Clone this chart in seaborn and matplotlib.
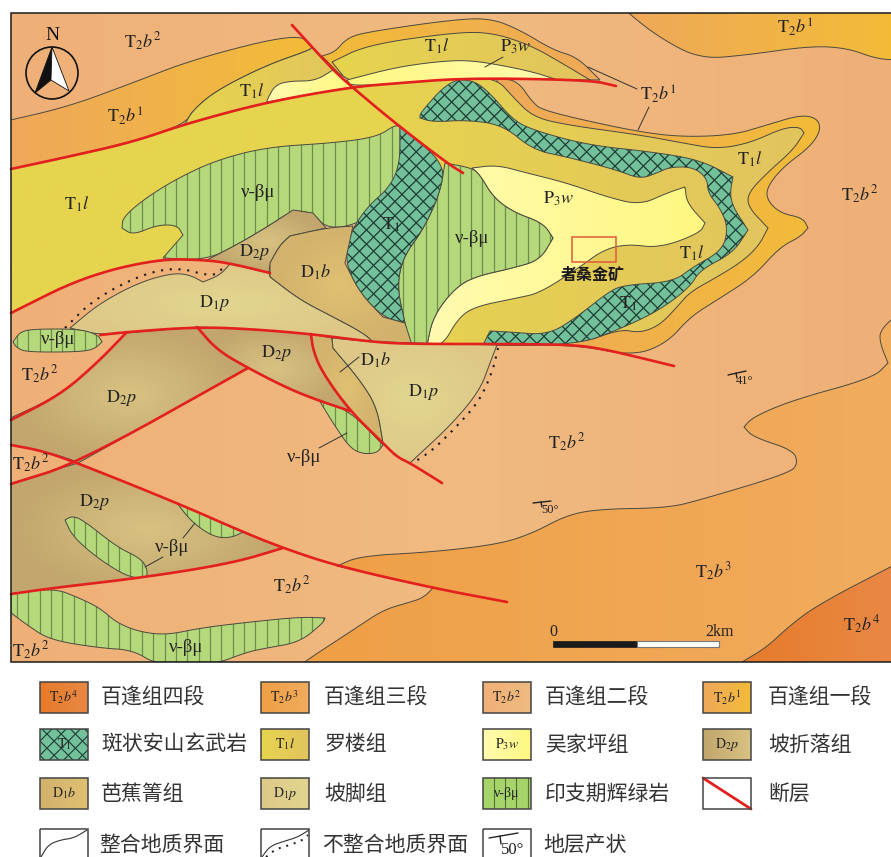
import numpy as np
import pandas as pd
import matplotlib

matplotlib.use("Agg")

import matplotlib.pyplot as plt
import seaborn as sns
from matplotlib.collections import LineCollection
from matplotlib.colors import LinearSegmentedColormap
from matplotlib.patches import Circle, Polygon, Rectangle

# outlines of the map units (pixel positions)
T2B3 = [(500, 544), (533, 533), (567, 515), (600, 509), (667, 508), (700, 500), (790, 473), (798, 463), (793, 450),
        (753, 437), (744, 427), (753, 417), (793, 400), (873, 378), (888, 363), (880, 343), (880, 330), (900, 312),
        (900, 670), (295, 670), (304, 662), (353, 630), (383, 610), (407, 603), (423, 598), (433, 588), (337, 566),
        (360, 556), (433, 552)]
T2B4 = [(730, 670), (742, 662), (767, 647), (787, 628), (817, 605), (900, 562), (900, 670)]
T2B1_NE = [(622, 5), (628, 13), (660, 38), (700, 59), (747, 55), (810, 46), (847, 48), (877, 59), (900, 60), (900, 5)]
T2B1_NW = [(2, 122), (67, 107), (127, 85), (197, 58), (298, 33), (312, 47), (310, 50), (267, 65), (217, 90), (193, 110),
           (185, 124), (133, 142), (2, 171)]
T1L_NW = [(185, 124), (193, 110), (217, 90), (267, 65), (310, 50), (312, 47), (333, 70), (352, 87), (267, 102)]
P3W_NW = [(267, 100), (275, 85), (290, 81), (315, 81), (333, 70), (352, 87), (267, 102)]
T2B1_N = [(322, 56), (335, 52), (347, 38), (367, 32), (450, 20), (490, 18), (520, 30), (553, 50), (577, 57), (600, 80),
          (467, 78), (352, 87)]
T1L_N = [(332, 62), (367, 45), (450, 33), (490, 32), (530, 45), (560, 62), (590, 80), (467, 78), (352, 87)]
P3W_N = [(347, 80), (393, 68), (433, 62), (467, 60), (500, 65), (533, 72), (555, 79), (467, 78), (352, 87)]
T1L_W = [(2, 171), (133, 142), (185, 124), (267, 102), (352, 87), (395, 123), (400, 200), (163, 258), (157, 259),
         (83, 277), (2, 317)]
T2B1_E = [(497, 79), (517, 80), (533, 103), (543, 110), (583, 120), (640, 132), (683, 137), (733, 135), (767, 125),
          (800, 115), (817, 118), (821, 130), (810, 147), (783, 167), (767, 187), (767, 200), (780, 213), (803, 218),
          (808, 228), (800, 237), (780, 247), (753, 277), (717, 300), (690, 317), (667, 343), (633, 356), (577, 345),
          (500, 345)]
T1L_E = [(352, 87), (400, 83), (467, 78), (497, 79), (513, 97), (533, 117), (567, 125), (640, 135), (683, 143),
         (717, 149), (750, 143), (783, 128), (800, 127), (804, 133), (793, 150), (767, 173), (748, 193), (748, 207),
         (768, 228), (758, 247), (740, 263), (717, 277), (690, 292), (677, 307), (660, 325), (640, 333), (620, 329),
         (577, 345), (420, 345), (447, 163), (395, 123)]
T1_E = [(420, 113), (450, 80), (473, 80), (490, 93), (513, 120), (533, 130), (587, 145), (653, 152), (700, 160),
        (733, 177), (730, 193), (733, 207), (748, 230), (733, 253), (700, 270), (690, 287), (660, 310), (620, 329),
        (577, 345), (483, 345), (490, 331), (510, 332), (548, 335), (577, 317), (607, 293), (623, 285), (673, 282),
        (693, 267), (723, 250), (728, 227), (720, 208), (708, 193), (707, 178), (693, 167), (670, 167), (657, 173),
        (640, 179), (617, 170), (567, 157), (533, 150), (503, 125), (467, 120), (433, 122), (420, 118)]
P3W_E = [(472, 168), (497, 165), (527, 173), (567, 183), (607, 197), (640, 205), (667, 193), (685, 187), (687, 203),
         (705, 223), (700, 233), (660, 248), (627, 244), (603, 250), (580, 267), (540, 293), (517, 298), (473, 307),
         (457, 320), (443, 345), (427, 345), (433, 317), (453, 290), (473, 277), (513, 268), (540, 260), (553, 238),
         (543, 223), (513, 212), (493, 197), (480, 175)]
GREEN_C = [(445, 163), (472, 168), (480, 175), (493, 197), (513, 212), (543, 223), (553, 238), (540, 260), (513, 268),
           (473, 277), (453, 290), (433, 317), (427, 345), (410, 345), (405, 323), (397, 287), (403, 257), (423, 230),
           (440, 193)]
GREEN_NW = [(395, 125), (377, 137), (333, 143), (267, 147), (217, 160), (180, 177), (147, 197), (123, 217), (122, 228),
            (133, 235), (157, 225), (177, 225), (183, 235), (163, 258), (207, 260), (240, 243), (267, 227), (293, 210),
            (313, 213), (326, 228), (353, 226), (400, 200), (400, 127)]
T1_C = [(400, 127), (445, 163), (440, 193), (423, 230), (403, 257), (397, 287), (405, 323), (383, 317), (360, 293),
        (345, 263), (350, 233), (367, 207), (390, 187), (400, 163)]
D2P_U = [(207, 260), (240, 243), (267, 227), (293, 210), (313, 213), (326, 228), (290, 236), (280, 245), (270, 263),
         (269, 273), (233, 264)]
D1B_U = [(326, 228), (353, 226), (345, 263), (360, 293), (383, 317), (405, 323), (412, 345), (373, 342), (363, 333),
         (333, 317), (300, 300), (270, 277), (270, 263), (280, 245), (290, 236)]
D1P_U = [(70, 328), (100, 303), (140, 282), (173, 273), (190, 275), (203, 282), (220, 275), (230, 264), (269, 273),
         (270, 277), (300, 300), (333, 317), (363, 333), (373, 342), (310, 334), (250, 329), (197, 327), (127, 332),
         (100, 335)]
GREEN_LENS = [(13, 342), (20, 332), (33, 329), (80, 329), (98, 335), (102, 342), (93, 350), (73, 352), (27, 352),
              (17, 348)]
D2P_M = [(126, 333), (197, 327), (217, 350), (248, 368), (78, 463), (73, 460), (43, 451), (2, 443), (2, 422), (60, 395),
         (97, 363)]
D2P_E = [(197, 327), (250, 329), (311, 334), (313, 350), (322, 372), (350, 411), (317, 400), (287, 388), (248, 368),
         (217, 350)]
D1B_S = [(311, 334), (332, 338), (333, 348), (360, 380), (377, 407), (383, 443), (350, 411), (322, 372), (313, 350)]
D1P_E = [(332, 338), (373, 342), (497, 345), (490, 363), (480, 390), (453, 423), (410, 463), (397, 457), (383, 443),
         (377, 407), (360, 380), (333, 348)]
GREEN_F = [(319, 400), (350, 411), (383, 445), (377, 453), (363, 454), (350, 448), (333, 423)]
D2P_L = [(2, 486), (78, 463), (177, 503), (243, 532), (283, 548), (233, 563), (147, 577), (53, 588), (2, 595)]
GREEN_L1 = [(65, 520), (72, 516), (83, 520), (117, 547), (140, 558), (147, 568), (147, 577), (130, 578), (100, 560),
            (73, 537)]
GREEN_L2 = [(177, 503), (243, 532), (233, 537), (220, 538), (207, 533), (190, 520)]
GREEN_S = [(2, 595), (53, 588), (77, 597), (100, 608), (117, 623), (140, 632), (167, 635), (200, 628), (250, 622),
           (300, 617), (325, 618), (323, 623), (300, 642), (267, 648), (247, 652), (213, 665), (157, 665), (133, 650),
           (100, 648), (50, 640), (27, 625), (2, 606)]

FAULT_N = [(11, 169), (67, 157), (133, 142), (185, 124), (267, 102), (352, 87), (400, 83), (467, 78), (590, 80), (616, 86)]
FAULT_NW = [(292, 25), (333, 70), (352, 87), (395, 123), (447, 163), (463, 173)]
FAULT_MID_N = [(11, 313), (83, 277), (157, 259), (207, 260), (233, 264), (270, 273)]
FAULT_MAIN = [(100, 335), (127, 332), (197, 327), (250, 329), (311, 334), (373, 342), (410, 344), (520, 344), (577, 345),
              (607, 350), (633, 356), (674, 366)]
FAULT_A = [(11, 420), (60, 395), (97, 363), (126, 333)]
FAULT_B = [(197, 327), (217, 350), (248, 368), (287, 388), (317, 400), (350, 411)]
FAULT_C = [(311, 334), (313, 350), (322, 372), (350, 411), (383, 443), (397, 457), (410, 463), (442, 483)]
FAULT_D = [(11, 484), (78, 463), (248, 368)]
FAULT_E = [(11, 445), (43, 451), (80, 464), (177, 503), (243, 532), (283, 548), (337, 566), (433, 588), (507, 602)]
FAULT_F = [(11, 594), (53, 588), (147, 577), (233, 563), (283, 548)]
FAULTS = [FAULT_N, FAULT_NW, FAULT_MID_N, FAULT_MAIN, FAULT_A, FAULT_B, FAULT_C, FAULT_D, FAULT_E, FAULT_F]

DOTS_W = [(65, 328), (93, 300), (140, 275), (177, 267), (213, 277), (223, 268)]
DOTS_E = [(498, 348), (493, 370), (480, 400), (460, 423), (433, 450), (413, 463)]

LEADERS = [[(588, 67), (637, 89)], [(649, 107), (638, 130)], [(485, 67), (503, 57)], [(340, 372), (359, 357)],
           [(319, 448), (347, 433)], [(183, 538), (195, 523)], [(163, 557), (145, 567)]]

MAP_LABELS = [
    (r"$\mathrm{T}_{2}b^{2}$", 143, 42), (r"$\mathrm{T}_{2}b^{1}$", 125, 116), (r"$\mathrm{T}_{1}l$", 252, 91),
    (r"$\mathrm{T}_{1}l$", 437, 46), (r"$\mathrm{P}_{3}w$", 516, 47), (r"$\mathrm{T}_{2}b^{1}$", 658, 94),
    (r"$\mathrm{T}_{2}b^{1}$", 795, 27), (r"$\mathrm{T}_{1}l$", 77, 204), (r"$\mathrm{T}_{1}l$", 750, 159),
    (r"$\mathrm{T}_{2}b^{2}$", 860, 195), (r"$\mathrm{P}_{3}w$", 559, 199), (r"$\mathrm{T}_{1}l$", 692, 253),
    (r"$\mathrm{T}_{1}$", 391, 225), (r"$\mathrm{T}_{1}$", 628, 304), (r"$\mathrm{D}_{2}p$", 254, 252),
    (r"$\mathrm{D}_{1}b$", 315, 272), (r"$\mathrm{D}_{1}p$", 214, 303), (r"$\mathrm{D}_{2}p$", 276, 353),
    (r"$\mathrm{D}_{2}p$", 121, 398), (r"$\mathrm{D}_{1}b$", 375, 360), (r"$\mathrm{D}_{1}p$", 423, 392),
    (r"$\mathrm{T}_{2}b^{2}$", 40, 375), (r"$\mathrm{T}_{2}b^{2}$", 31, 464), (r"$\mathrm{T}_{2}b^{2}$", 567, 443),
    (r"$\mathrm{D}_{2}p$", 94, 502), (r"$\mathrm{T}_{2}b^{2}$", 292, 586), (r"$\mathrm{T}_{2}b^{3}$", 713, 572),
    (r"$\mathrm{T}_{2}b^{4}$", 862, 625), (r"$\mathrm{T}_{2}b^{2}$", 31, 651),
]
GREEN_LABELS = [(258, 192), (472, 238), (58, 340), (304, 457), (172, 548), (186, 647)]

LEGEND_NAMES = ["百逢组四段", "百逢组三段", "百逢组二段", "百逢组一段",
                "斑状安山玄武岩", "罗楼组", "吴家坪组", "坡折落组",
                "芭蕉箐组", "坡脚组", "印支期辉绿岩", "断层",
                "整合地质界面", "不整合地质界面", "地层产状"]
LEGEND_CODES = [r"$\mathrm{T}_{2}b^{4}$", r"$\mathrm{T}_{2}b^{3}$", r"$\mathrm{T}_{2}b^{2}$", r"$\mathrm{T}_{2}b^{1}$",
                r"$\mathrm{T}_{1}$", r"$\mathrm{T}_{1}l$", r"$\mathrm{P}_{3}w$", r"$\mathrm{D}_{2}p$",
                r"$\mathrm{D}_{1}b$", r"$\mathrm{D}_{1}p$", "ν-βμ"]

C_T2B2 = ("#EFB077", "#F0BA80")
C_T2B3 = ("#EF9F45", "#F1AC5E")
C_T2B4 = ("#E67A28", "#E98845")
C_T2B1 = ("#EFA85A", "#F2BC38")
C_T1L = ("#E6D44E", "#E2C45E")
C_P3W = ("#FFFBB0", "#FFF780")
C_D2P = ("#C2A66D", "#D8C282")
C_D1B = ("#D2B26C", "#E0C072")
C_D1P = ("#DEC888", "#E2D690")
GREEN = "#B5D97A"
TEAL = "#72C19B"
RED = "#E3201E"
LINE = "#4A4A40"
INK = "#222222"

FRAME = (11, 13, 892, 662)


def smooth(pts, closed=True, iters=3, corner=62):
    # corner cutting, vertices with a hard turn stay sharp
    pts = np.asarray(pts, dtype=float)
    keep = []
    n = len(pts)
    for i in range(n):
        if not closed and (i == 0 or i == n - 1):
            keep.append(pts[i])
            continue
        a = pts[i] - pts[i - 1]
        b = pts[(i + 1) % n] - pts[i]
        ang = np.degrees(np.arccos(np.clip(a @ b / (np.linalg.norm(a) * np.linalg.norm(b)), -1, 1)))
        keep.append(pts[i])
        if ang > corner:
            keep.append(pts[i])
    pts = np.array(keep)
    for _ in range(iters):
        nxt = np.roll(pts, -1, axis=0)
        q = 0.75 * pts + 0.25 * nxt
        r = 0.25 * pts + 0.75 * nxt
        out = np.empty((2 * len(pts), 2))
        out[0::2] = q
        out[1::2] = r
        if not closed:
            out = np.vstack([pts[0], out[:-2], pts[-1]])
        pts = out
    return pts


def gradient(ax, outline, colors, radial=False, box=FRAME, corner=62):
    xy = smooth(outline, corner=corner)
    x0, x1 = max(xy[:, 0].min(), box[0]), min(xy[:, 0].max(), box[2])
    y0, y1 = max(xy[:, 1].min(), box[1]), min(xy[:, 1].max(), box[3])
    cmap = LinearSegmentedColormap.from_list("unit", colors)
    if radial:
        gx, gy = np.meshgrid(np.linspace(-1, 1, 80), np.linspace(-1, 1, 80))
        img = 1 - np.clip(np.hypot(gx, gy), 0, 1)
    else:
        img = np.linspace(0, 1, 200).reshape(1, -1)
    im = ax.imshow(img, cmap=cmap, extent=(x0, x1, y1, y0), aspect="auto", vmin=0, vmax=1, zorder=2)
    im.set_clip_path(Polygon(xy, transform=ax.transData))
    return xy


def outline_only(ax, xy):
    patch = Polygon(xy, closed=True, fill=False, edgecolor=LINE, linewidth=0.7, zorder=2)
    ax.add_patch(patch)
    patch.set_clip_path(frame_clip)


def unit(ax, outline, colors, radial=False, corner=62):
    xy = gradient(ax, outline, colors, radial, corner=corner)
    outline_only(ax, xy)


def hatched(ax, outline, fill, segs, color, lw, smooth_it=True):
    xy = smooth(outline) if smooth_it else np.asarray(outline, dtype=float)
    if smooth_it:
        # keep the fill and its lines inside the map frame
        xy = np.column_stack([np.clip(xy[:, 0], FRAME[0], FRAME[2]), np.clip(xy[:, 1], FRAME[1], FRAME[3])])
    ax.add_patch(Polygon(xy, closed=True, facecolor=fill, edgecolor="none", zorder=2))
    lines = LineCollection(segs, colors=color, linewidths=lw, zorder=2)
    ax.add_collection(lines)
    lines.set_clip_path(Polygon(xy, transform=ax.transData))
    if smooth_it:
        outline_only(ax, xy)


def vert_segs(x0=0, x1=900, step=11.35):
    return [[(x, 0), (x, 900)] for x in np.arange(x0 + 5.6, x1, step)]


def cross_segs(step=14.2):
    segs = []
    for c in np.arange(-900, 1800, step):
        segs.append([(c, 0), (c + 900, 900)])
        segs.append([(c, 900), (c + 900, 0)])
    return segs


def draw_lines(ax, paths, color, lw, linestyle="-", smoothed=True):
    rows = []
    for i, path in enumerate(paths):
        xy = smooth(path, closed=False) if smoothed else np.asarray(path, dtype=float)
        rows.append(pd.DataFrame({"x": xy[:, 0], "y": xy[:, 1], "id": i}))
    sns.lineplot(data=pd.concat(rows), x="x", y="y", units="id", estimator=None, sort=False, color=color,
                 linewidth=lw, linestyle=linestyle, legend=False, ax=ax, zorder=3)


sns.set_theme(style="white")
plt.rcParams["mathtext.fontset"] = "stix"
plt.rcParams["font.family"] = ["Noto Sans CJK SC", "DejaVu Sans"]

fig = plt.figure(figsize=(8.91, 8.57), dpi=100, facecolor="white")
ax = fig.add_axes([0, 0, 1, 1])
ax.set_xlim(0, 891)
ax.set_ylim(857, 0)

frame_clip = Rectangle(FRAME[:2], FRAME[2] - FRAME[0], FRAME[3] - FRAME[1], transform=ax.transData)

im = ax.imshow(np.abs(np.linspace(-1, 1, 200)).reshape(1, -1),
               cmap=LinearSegmentedColormap.from_list("bg", C_T2B2[::-1]),
               extent=(FRAME[0], FRAME[2], FRAME[3], FRAME[1]), aspect="auto", zorder=1)

SHARP = 28
unit(ax, T2B3, C_T2B3)
unit(ax, T2B4, C_T2B4)
unit(ax, T2B1_NE, C_T2B1)
unit(ax, T2B1_NW, C_T2B1)
unit(ax, T1L_NW, C_T1L)
unit(ax, P3W_NW, C_P3W)
unit(ax, T2B1_N, C_T2B1[::-1])
unit(ax, T1L_N, C_T1L)
unit(ax, P3W_N, C_P3W[::-1])
gradient(ax, T1L_W, (C_T1L[0], C_T1L[0]), corner=SHARP)
unit(ax, T2B1_E, C_T2B1)
unit(ax, T1L_E, C_T1L)
hatched(ax, T1_E, TEAL, cross_segs(), "#1E3B33", 0.9)
unit(ax, P3W_E, C_P3W)
hatched(ax, GREEN_C, GREEN, vert_segs(), "#6F8C4F", 0.9)
hatched(ax, GREEN_NW, GREEN, vert_segs(), "#6F8C4F", 0.9)
hatched(ax, T1_C, TEAL, cross_segs(), "#1E3B33", 0.9)
unit(ax, D2P_U, C_D2P, radial=True, corner=SHARP)
unit(ax, D1B_U, C_D1B, radial=True, corner=SHARP)
unit(ax, D1P_U, C_D1P, radial=True, corner=SHARP)
hatched(ax, GREEN_LENS, GREEN, vert_segs(), "#6F8C4F", 0.9)
unit(ax, D2P_M, C_D2P, radial=True, corner=SHARP)
unit(ax, D2P_E, C_D2P, radial=True, corner=SHARP)
unit(ax, D1B_S, C_D1B, radial=True, corner=SHARP)
unit(ax, D1P_E, C_D1P, radial=True, corner=SHARP)
hatched(ax, GREEN_F, GREEN, vert_segs(), "#6F8C4F", 0.9)
unit(ax, D2P_L, C_D2P, radial=True, corner=SHARP)
hatched(ax, GREEN_L1, GREEN, vert_segs(), "#6F8C4F", 0.9)
hatched(ax, GREEN_L2, GREEN, vert_segs(), "#6F8C4F", 0.9)
hatched(ax, GREEN_S, GREEN, vert_segs(), "#6F8C4F", 0.9)

draw_lines(ax, LEADERS, "#333333", 0.7, smoothed=False)
draw_lines(ax, [DOTS_W, DOTS_E], "#1a1a1a", 1.5, linestyle=(0, (1, 3.2)))
draw_lines(ax, FAULTS, RED, 1.9)

# frame, compass, mine box and scale bar
ax.add_patch(Rectangle(FRAME[:2], FRAME[2] - FRAME[0], FRAME[3] - FRAME[1], fill=False, edgecolor="#1a1a1a", lw=1.1, zorder=6))
ax.add_patch(Rectangle((572, 237), 44, 25, fill=False, edgecolor="#E05A3A", lw=1.1, zorder=4))
ax.add_patch(Circle((52, 73), 26, fill=False, edgecolor="#111111", lw=1.2, zorder=4))
ax.add_patch(Polygon([(52, 47), (35, 93), (51, 80)], facecolor="#111111", edgecolor="#111111", lw=0.6, zorder=4))
ax.add_patch(Polygon([(52, 47), (69, 91), (51, 80)], facecolor="white", edgecolor="#111111", lw=0.6, zorder=4))
ax.text(52, 35, "N", family="Liberation Serif", fontsize=14, ha="center", va="center", color="#111111", zorder=5)

ax.add_patch(Rectangle((553, 641), 84, 6, facecolor="#1a1a1a", edgecolor="#1a1a1a", lw=0.5, zorder=4))
ax.add_patch(Rectangle((637, 641), 82, 6, facecolor="white", edgecolor="#777777", lw=0.8, zorder=4))
ax.text(553, 632, "0", family="Liberation Serif", fontsize=11.5, ha="center", va="center", color=INK, zorder=5)
ax.text(719, 632, "2km", family="Liberation Serif", fontsize=11.5, ha="center", va="center", color=INK, zorder=5)

for label, x, y in MAP_LABELS:
    ax.text(x, y, label, fontsize=13, ha="center", va="center", color=INK, zorder=5)
for x, y in GREEN_LABELS:
    ax.text(x, y, "ν-βμ", family="Liberation Serif", fontsize=13.5, ha="center", va="center", color=INK, zorder=5)

# dip symbols
draw_lines(ax, [[(728, 375), (746, 371)], [(736, 373), (737, 378)], [(533, 503), (551, 501)], [(541, 502), (542, 507)]],
           "#222222", 1.0, smoothed=False)
ax.text(744, 381, "41°", family="Liberation Serif", fontsize=9, ha="center", va="center", color=INK, zorder=5)
ax.text(550, 510, "50°", family="Liberation Serif", fontsize=9, ha="center", va="center", color=INK, zorder=5)

ax.text(593, 275, "者桑金矿", fontsize=11.5, fontweight="bold", ha="center", va="center", color="#1a1a1a", zorder=5)

# legend
SW_X = [40, 261, 483, 703]
SW_Y = [682, 729, 778, 829]
SW_W, SW_H = 48, 31
TEXT_X = [101, 324, 545, 768]
SW_COLORS = [C_T2B4, C_T2B3, C_T2B2, C_T2B1, None, C_T1L, C_P3W, C_D2P, C_D1B, C_D1P, None]
for i, name in enumerate(LEGEND_NAMES):
    row, col = i // 4, i % 4
    x, y = SW_X[col], SW_Y[row]
    box = [(x, y), (x + SW_W, y), (x + SW_W, y + SW_H), (x, y + SW_H)]
    if i < 11:
        if SW_COLORS[i] is not None:
            im = ax.imshow(np.linspace(0, 1, 100).reshape(1, -1), cmap=LinearSegmentedColormap.from_list("sw", SW_COLORS[i]),
                           extent=(x, x + SW_W, y + SW_H, y), aspect="auto", zorder=2)
        elif i == 4:
            hatched(ax, box, TEAL, cross_segs(), "#1E3B33", 0.8, smooth_it=False)
        else:
            hatched(ax, box, "#A6D468", vert_segs(), "#55703A", 0.8, smooth_it=False)
        ax.text(x + SW_W / 2, y + SW_H / 2, LEGEND_CODES[i], family="Liberation Serif" if i == 10 else None, fontsize=10,
                ha="center", va="center", color=INK, zorder=5)
    ax.add_patch(Rectangle((x, y), SW_W, SW_H + (15 if row == 3 else 0), fill=False, edgecolor="#444444", lw=1.1, zorder=5))
    ax.text(TEXT_X[col] - (2 if row == 3 else 0), y + SW_H / 2, name, fontsize=15, ha="left", va="center",
            color="#333333", zorder=5)

draw_lines(ax, [[(703, 778), (751, 809)]], RED, 2.0, smoothed=False)
draw_lines(ax, [[(41, 857), (48, 845), (60, 840), (74, 838), (87, 830)],
                [(262, 857), (270, 846), (285, 841), (298, 837), (309, 830)]], "#333333", 0.8)
draw_lines(ax, [[(266, 857), (276, 849), (290, 845), (303, 840), (308, 835)]], "#1a1a1a", 1.4, linestyle=(0, (1, 3)))
draw_lines(ax, [[(489, 838), (518, 833)], [(500, 836), (501, 844)]], "#222222", 1.0, smoothed=False)
ax.text(513, 850, "50°", family="Liberation Serif", fontsize=12, ha="center", va="center", color=INK, zorder=6)

ax.set_xlim(0, 891)
ax.set_ylim(857, 0)
ax.set_xlabel("")
ax.set_ylabel("")
ax.axis("off")
fig.savefig("out.png", dpi=100)
